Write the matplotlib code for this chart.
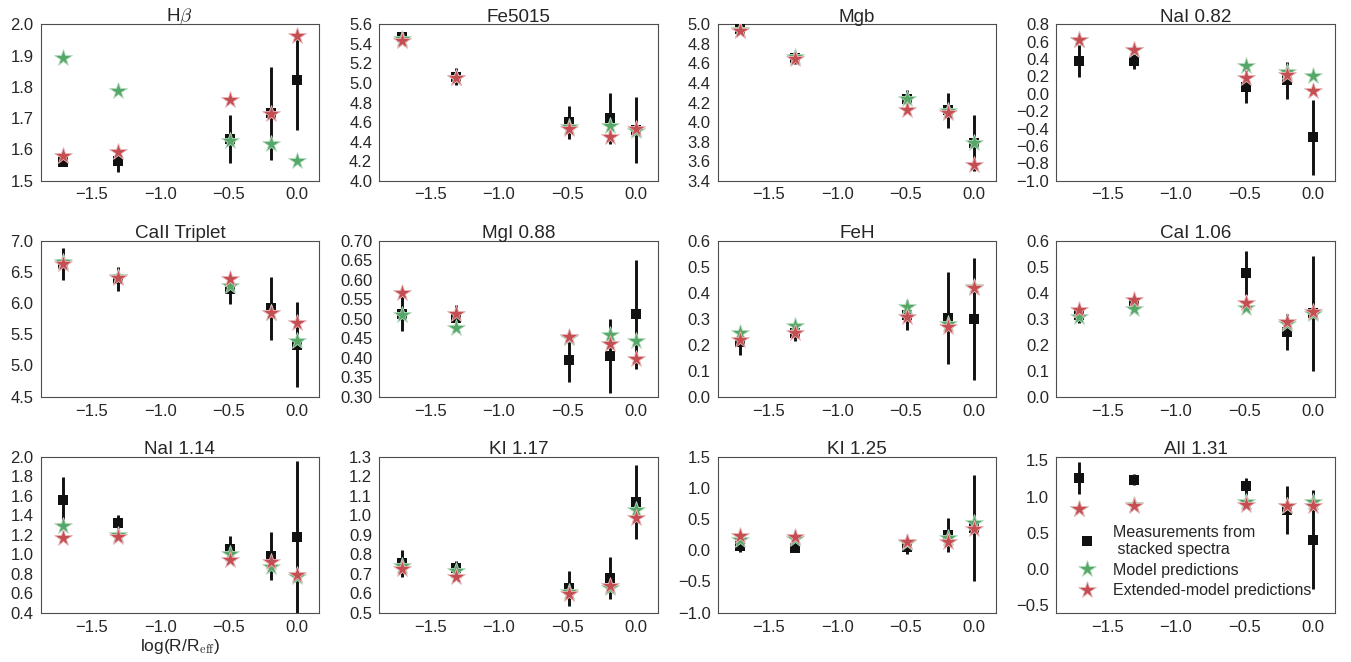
import numpy as np
import matplotlib
matplotlib.use("Agg")
import matplotlib.pyplot as plt
from matplotlib.ticker import MultipleLocator, FuncFormatter
import seaborn as sns

sns.set_style("white")
plt.rcParams['font.family'] = ['Liberation Sans', 'DejaVu Sans']
plt.rcParams['mathtext.fontset'] = 'cm'
plt.rcParams['text.color'] = '.15'
plt.rcParams['axes.edgecolor'] = '.3'
plt.rcParams['xtick.color'] = '.15'
plt.rcParams['ytick.color'] = '.15'

# radial positions log(R/Reff)
logR = [-1.71, -1.31, -0.49, -0.19, 0.0]

titles = [r"H$\beta$", "Fe5015", "Mgb", "NaI 0.82",
          "CaII Triplet", "MgI 0.88", "FeH", "CaI 1.06",
          "NaI 1.14", "KI 1.17", "KI 1.25", "AlI 1.31"]

# measurements from stacked spectra
meas = [
    [1.558, 1.563, 1.634, 1.715, 1.821],
    [5.47, 5.065, 4.596, 4.637, 4.517],
    [4.955, 4.653, 4.234, 4.12, 3.785],
    [0.379, 0.375, 0.084, 0.157, -0.502],
    [6.624, 6.38, 6.23, 5.914, 5.33],
    [0.513, 0.502, 0.393, 0.403, 0.511],
    [0.21, 0.245, 0.315, 0.303, 0.297],
    [0.312, 0.357, 0.475, 0.249, 0.32],
    [1.556, 1.316, 1.053, 0.981, 1.18],
    [0.753, 0.731, 0.625, 0.676, 1.069],
    [0.068, 0.031, 0.047, 0.244, 0.35],
    [1.257, 1.234, 1.142, 0.812, 0.408],
]
meas_err = [
    [0.01, 0.035, 0.077, 0.15, 0.16],
    [0.03, 0.085, 0.17, 0.26, 0.34],
    [0.02, 0.06, 0.09, 0.18, 0.29],
    [0.185, 0.085, 0.19, 0.215, 0.43],
    [0.25, 0.19, 0.24, 0.5, 0.68],
    [0.045, 0.033, 0.056, 0.095, 0.14],
    [0.05, 0.033, 0.058, 0.178, 0.235],
    [0.03, 0.02, 0.083, 0.07, 0.22],
    [0.235, 0.085, 0.13, 0.25, 0.78],
    [0.07, 0.035, 0.09, 0.107, 0.19],
    [0.1, 0.03, 0.1, 0.27, 0.85],
    [0.22, 0.075, 0.12, 0.33, 0.68],
]
# model predictions
model = [
    [1.894, 1.786, 1.627, 1.617, 1.561],
    [5.45, 5.055, 4.545, 4.555, 4.504],
    [4.94, 4.67, 4.234, 4.11, 3.785],
    [0.616, 0.50, 0.321, 0.253, 0.207],
    [6.66, 6.41, 6.27, 5.844, 5.398],
    [0.508, 0.475, 0.45, 0.457, 0.443],
    [0.243, 0.271, 0.346, 0.28, 0.42],
    [0.307, 0.338, 0.342, 0.28, 0.318],
    [1.289, 1.20, 1.002, 0.865, 0.77],
    [0.739, 0.715, 0.604, 0.628, 1.026],
    [0.165, 0.175, 0.12, 0.19, 0.43],
    [0.835, 0.89, 0.927, 0.867, 0.922],
]
# extended-model predictions
ext = [
    [1.58, 1.59, 1.757, 1.713, 1.964],
    [5.43, 5.055, 4.53, 4.45, 4.528],
    [4.93, 4.65, 4.12, 4.09, 3.563],
    [0.616, 0.505, 0.187, 0.218, 0.034],
    [6.62, 6.40, 6.38, 5.84, 5.683],
    [0.565, 0.513, 0.453, 0.436, 0.397],
    [0.217, 0.243, 0.307, 0.268, 0.419],
    [0.332, 0.37, 0.359, 0.288, 0.325],
    [1.169, 1.176, 0.94, 0.923, 0.79],
    [0.726, 0.685, 0.594, 0.637, 0.987],
    [0.229, 0.207, 0.14, 0.14, 0.34],
    [0.835, 0.867, 0.88, 0.867, 0.867],
]
ylims = [(1.5, 2.0), (4.0, 5.6), (3.4, 5.0), (-1.0, 0.8),
         (4.5, 7.0), (0.30, 0.70), (0.0, 0.6), (0.0, 0.6),
         (0.4, 2.0), (0.5, 1.3), (-1.0, 1.5), (-0.6, 1.55)]
ysteps = [0.1, 0.2, 0.2, 0.2, 0.5, 0.05, 0.1, 0.1, 0.2, 0.1, 0.5, 0.5]
yfmts = ['%.1f'] * 5 + ['%.2f'] + ['%.1f'] * 6

green = '#55A868'
red = '#C44E52'

fig, axes = plt.subplots(3, 4, figsize=(13.51, 6.62), dpi=100)
fig.subplots_adjust(left=0.030, right=0.988, top=0.963, bottom=0.0745,
                    wspace=0.215, hspace=0.385)

for i, ax in enumerate(axes.flat):
    ax.errorbar(logR, meas[i], yerr=meas_err[i], fmt='none', ecolor='#111111',
                elinewidth=2.1, capsize=0, zorder=2)
    ax.plot(logR, meas[i], 's', color='#111111', ms=7.5, mew=0, zorder=3,
            label='Measurements from\n stacked spectra')
    ax.plot(logR, model[i], '*', color=green, ms=13, mew=0.6, mec='#b8dcc0',
            zorder=4, label='Model predictions')
    ax.plot(logR, ext[i], '*', color=red, ms=13, mew=0.6, mec='#e8b8ba',
            zorder=5, label='Extended-model predictions')
    ax.set_xlim(-1.875, 0.16)
    ax.yaxis.set_major_locator(MultipleLocator(ysteps[i]))
    ax.yaxis.set_major_formatter(
        FuncFormatter(lambda v, p, f=yfmts[i]:
                      (f % v).replace('-', '\u2212') if abs(v) > 1e-9
                      else (f % 0.0)))
    ax.set_ylim(*ylims[i])
    ax.set_xticks([-1.5, -1.0, -0.5, 0.0])
    ax.set_title(titles[i], fontsize=13.6, pad=2)
    ax.tick_params(labelsize=12, length=0, pad=5)

axes[2, 0].set_xlabel(r"log(R/R$_{\rm eff}$)", fontsize=12.5, labelpad=2)

leg = axes[2, 3].legend(loc='lower right', bbox_to_anchor=(0.967, 0.0),
                        frameon=False, fontsize=11.5, numpoints=1,
                        handletextpad=0.6, labelspacing=0.35)

fig.savefig('out.png', dpi=100)
